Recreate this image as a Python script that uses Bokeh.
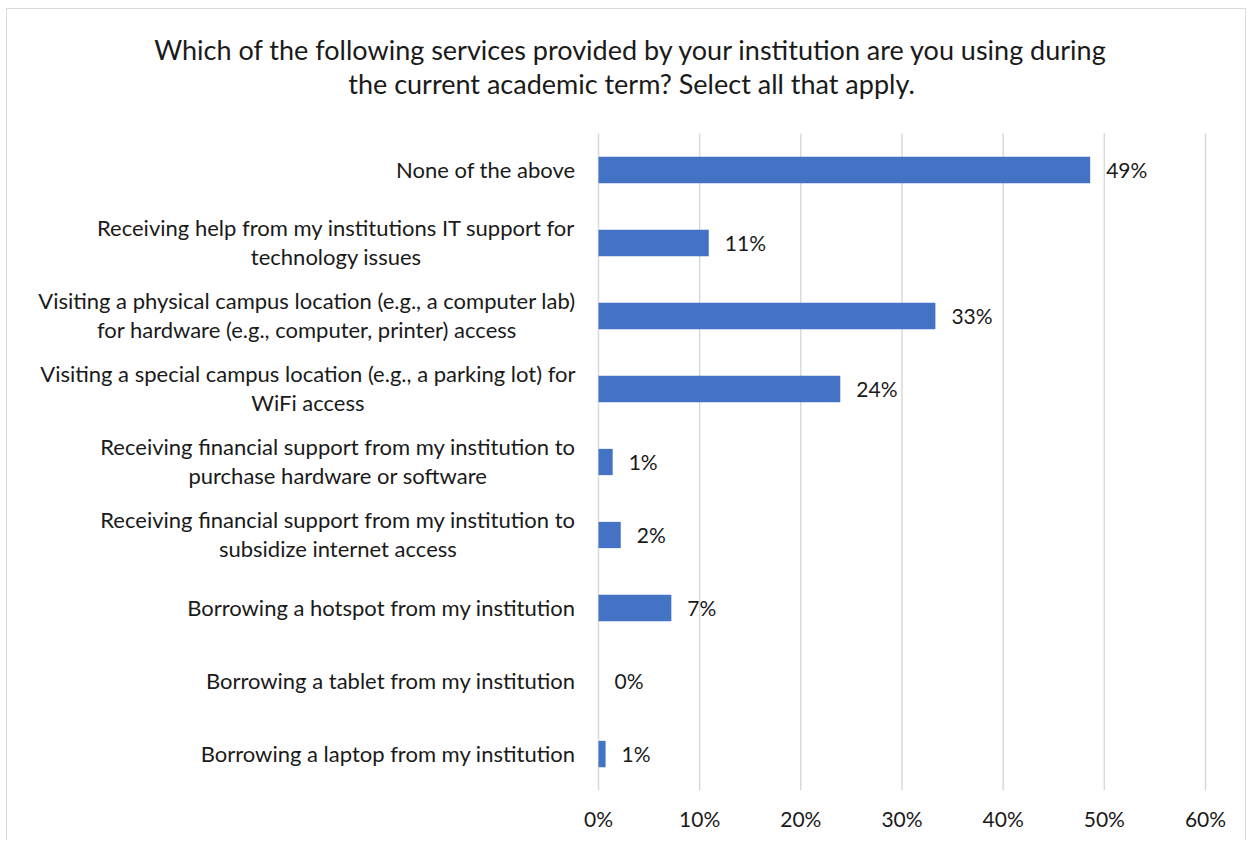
from bokeh.plotting import figure
from bokeh.models import Range1d, ColumnDataSource, PrintfTickFormatter, FixedTicker
from bokeh.core.properties import value
from bokeh.embed import file_html
from bokeh.resources import INLINE

title_lines = ["Which of the following services provided by your institution are you using during",
               "the current academic term? Select all that apply."]
categories = [
    "None of the above",
    "Receiving help from my institutions IT support for\ntechnology issues",
    "Visiting a physical campus location (e.g., a computer lab)\nfor hardware (e.g., computer, printer) access",
    "Visiting a special campus location (e.g., a parking lot) for\nWiFi access",
    "Receiving financial support from my institution to\npurchase hardware or software",
    "Receiving financial support from my institution to\nsubsidize internet access",
    "Borrowing a hotspot from my institution",
    "Borrowing a tablet from my institution",
    "Borrowing a laptop from my institution",
]
values = [48.6, 10.9, 33.3, 23.9, 1.4, 2.2, 7.2, 0.0, 0.7]
value_labels = [f"{round(v)}%" for v in values]
x_ticks = [0, 10, 20, 30, 40, 50, 60]

# ---- layout / style constants (pixels on the canvas) ----
FONT = "Lato"
TXT = "#1a1a1a"
BAR = "#4472C4"
GRID = "#D9D9D9"
W, H = 1240, 832
X0_PX, X60_PX = 591, 1198          # canvas x of 0% and 60%
TOP_PX, BOT_PX = 124, 781          # canvas y of first band top / last band bottom
N = len(values)
PX_PER_X = (X60_PX - X0_PX) / 60.0
PX_PER_ROW = (BOT_PX - TOP_PX) / N

def dx(px):   # horizontal pixel distance -> data units
    return px / PX_PER_X

def dy(px):   # vertical pixel distance -> data rows
    return px / PX_PER_ROW

pos = [i + 0.5 for i in range(N)]

p = figure(width=W, height=H, output_backend="svg", toolbar_location=None,
           x_range=Range1d(-dx(X0_PX), 60 + dx(W - X60_PX)),
           y_range=Range1d(N, N - dy(BOT_PX)),
           min_border_left=0, min_border_right=0, min_border_top=0, min_border_bottom=H - BOT_PX)
p.margin = (8, 0, 0, 6)
p.styles = {"border-top": "1px solid #D9D9D9", "border-left": "1px solid #D9D9D9",
            "border-right": "1px solid #D9D9D9"}
p.outline_line_color = None
p.yaxis.visible = False
p.grid.visible = False
p.xaxis.ticker = FixedTicker(ticks=x_ticks)
p.xaxis.formatter = PrintfTickFormatter(format="%d%%")
p.xaxis.axis_line_color = None
p.xaxis.major_tick_line_color = None
p.xaxis.minor_tick_line_color = None
p.xaxis.major_tick_out = 0
p.xaxis.major_label_text_font = FONT
p.xaxis.major_label_text_font_size = "21px"
p.xaxis.major_label_text_color = TXT
p.xaxis.major_label_standoff = 15

# gridlines spanning the bands
p.segment(x0=x_ticks, x1=x_ticks, y0=[0] * len(x_ticks), y1=[N] * len(x_ticks),
          line_color=GRID, line_width=1.5)

src = ColumnDataSource(dict(y=pos, v=values, lab=value_labels, cat=categories,
                            zero=[0] * N))
p.hbar(y="y", right="v", left=0, height=0.36, source=src, fill_color=BAR, line_color=None)

p.text(x="v", y="y", text="lab", source=src, x_offset=16, y_offset=-1, text_baseline="middle",
       text_font=value(FONT), text_font_size="21px", text_color=TXT)

p.text(x="zero", y="y", text="cat", source=src, x_offset=-23, y_offset=-1,
       text_align="center", anchor=value("center_right"), text_line_height=1.06,
       text_font=value(FONT), text_font_size="22px", text_color=TXT)

title_src = ColumnDataSource(dict(
    x=[dx(631 - 598)] * 2,
    y=[dy(49 - 133), dy(83 - 133)],
    t=title_lines))
p.text(x="x", y="y", text="t", source=title_src, text_align="center", text_baseline="middle",
       text_font=value(FONT), text_font_size="27px", text_color=TXT)

open("out.html", "w").write(file_html(p, INLINE))
